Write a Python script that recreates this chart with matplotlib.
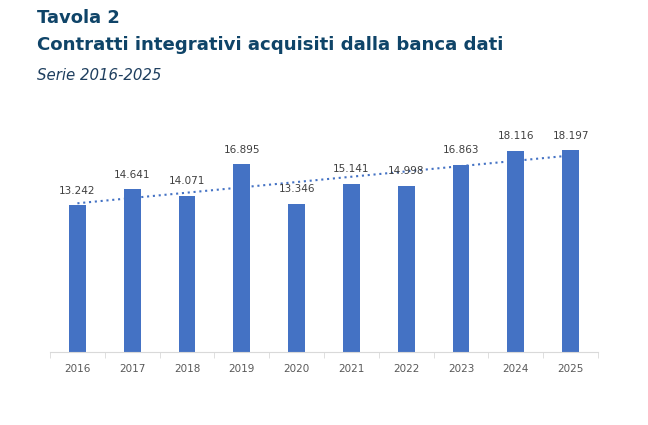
import numpy as np
import matplotlib.pyplot as plt

# dati
anni = ["2016", "2017", "2018", "2019", "2020", "2021", "2022", "2023", "2024", "2025"]
contratti = [13242, 14641, 14071, 16895, 13346, 15141, 14998, 16863, 18116, 18197]
etichette = ["13.242", "14.641", "14.071", "16.895", "13.346", "15.141", "14.998", "16.863", "18.116", "18.197"]

blu = "#4472c4"
titolo_col = "#0f4468"

fig = plt.figure(figsize=(6.48, 4.25), dpi=100)
ax = fig.add_axes([50 / 648, 1 - 352 / 425, 548 / 648, 222 / 425])

x = np.arange(len(anni))
ax.bar(x, contratti, width=0.31, color=blu, zorder=2)

# linea di tendenza lineare
a, b = np.polyfit(x, contratti, 1)
ax.plot(x, a * x + b, linestyle=(0, (1, 1.8)), color=blu, linewidth=1.5, zorder=3)

for xi, v, t in zip(x, contratti, etichette):
    ax.text(xi, v + 850, t, ha="center", va="bottom", fontsize=7.5, color="#404040")

ax.set_xlim(-0.5, len(anni) - 0.5)
ax.set_ylim(0, 20000)
ax.set_yticks([])
for s in ["top", "right", "left"]:
    ax.spines[s].set_visible(False)
ax.spines["bottom"].set_color("#d9d9d9")
ax.set_xticks(x)
ax.set_xticklabels(anni, fontsize=7.5, color="#595959")
ax.tick_params(axis="x", length=0, pad=9)
ax.set_xticks(np.arange(-0.5, len(anni)), minor=True)
ax.tick_params(axis="x", which="minor", length=4, color="#d9d9d9")

fig.text(37 / 648, 1 - 18 / 425, "Tavola 2", fontsize=13, fontweight="bold", color=titolo_col, va="center")
fig.text(37 / 648, 1 - 45 / 425, "Contratti integrativi acquisiti dalla banca dati", fontsize=13.05,
         fontweight="bold", color=titolo_col, va="center")
fig.text(37 / 648, 1 - 76 / 425, "Serie 2016-2025", fontsize=10.8, style="italic", color="#1f3f5f", va="center")

fig.savefig("out.png", dpi=100)
